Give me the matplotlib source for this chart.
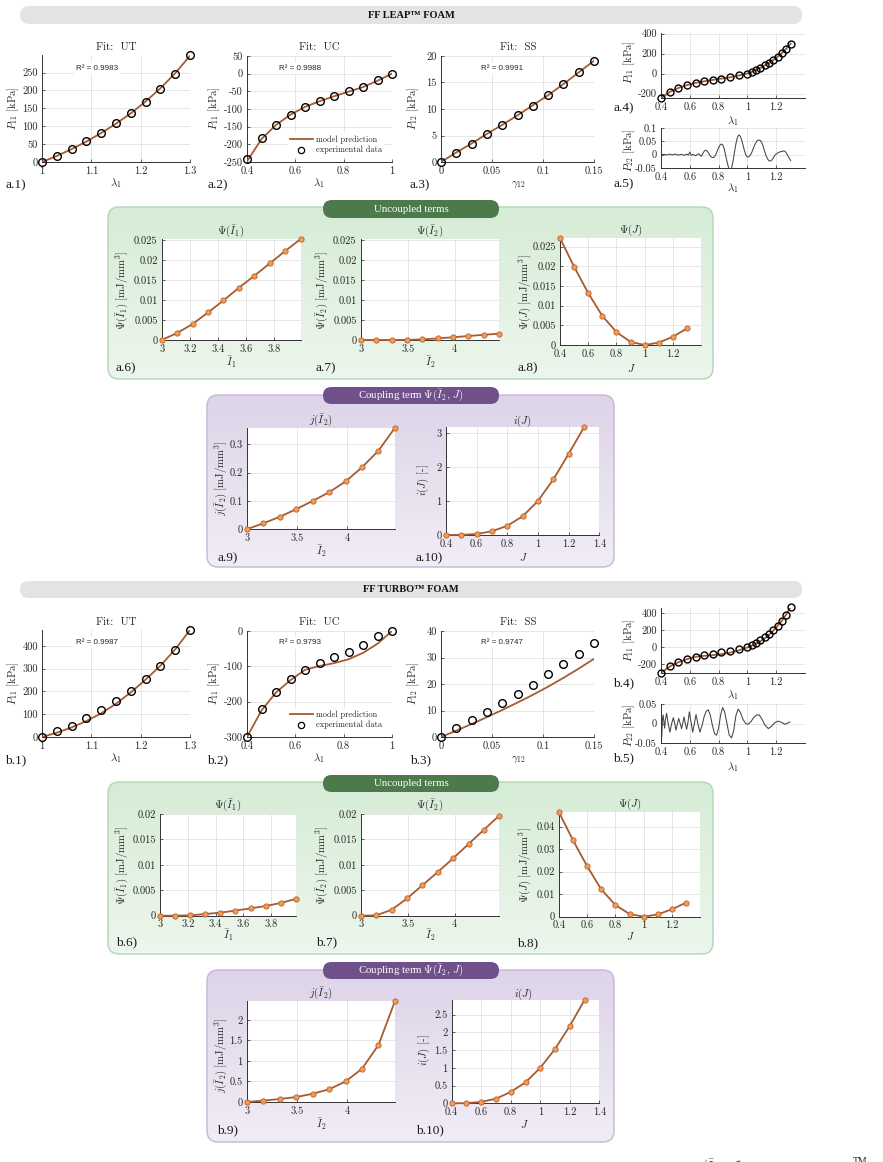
import numpy as np
import matplotlib
matplotlib.use("Agg")
import matplotlib.pyplot as plt
from matplotlib.patches import FancyBboxPatch
from matplotlib.lines import Line2D
from matplotlib.colors import LinearSegmentedColormap
from matplotlib.ticker import FuncFormatter, FixedLocator

plt.rcParams['font.family'] = 'cmr10'
plt.rcParams['mathtext.fontset'] = 'cm'
plt.rcParams['axes.unicode_minus'] = False
plt.rcParams['axes.formatter.use_mathtext'] = True

# ---------------- data ----------------
lam_ut = [1.00, 1.03, 1.06, 1.09, 1.12, 1.15, 1.18, 1.21, 1.24, 1.27, 1.30]
lam_uc = [0.40, 0.46, 0.52, 0.58, 0.64, 0.70, 0.76, 0.82, 0.88, 0.94, 1.00]
gam_ss = [0.0, 0.015, 0.03, 0.045, 0.06, 0.075, 0.09, 0.105, 0.12, 0.135, 0.15]

leap_ut_exp = [0, 17, 36, 58, 81, 108, 136, 169, 204, 247, 299]
leap_ut_mod = [0, 17, 36, 57, 81, 107, 136, 169, 206, 248, 297]
leap_uc_exp = [-242, -183, -144, -116, -94, -77, -64, -50, -38, -17, 0]
leap_uc_mod = [-248, -185, -145, -116, -94, -78, -64, -51, -38, -20, 0]
leap_ss_exp = [0, 1.7, 3.4, 5.2, 6.9, 8.8, 10.6, 12.7, 14.7, 16.9, 19.1]
leap_ss_mod = [0, 1.8, 3.5, 5.3, 7.0, 8.8, 10.7, 12.6, 14.7, 16.9, 19.1]
leap_r2 = ["0.9983", "0.9988", "0.9991"]

turbo_ut_exp = [0, 25, 50, 82, 117, 158, 203, 254, 313, 383, 469]
turbo_ut_mod = [0, 19, 42, 70, 104, 146, 196, 252, 313, 385, 470]
turbo_uc_exp = [-300, -222, -172, -137, -110, -90, -73, -59, -41, -14, 0]
turbo_uc_mod = [-300, -225, -174, -139, -110, -99, -91, -80, -62, -36, 0]
turbo_ss_exp = [0, 3.4, 6.6, 9.5, 13.0, 16.2, 19.8, 23.6, 27.4, 31.4, 35.5]
turbo_ss_mod = [0, 2.4, 4.9, 7.5, 10.2, 13.0, 15.9, 19.0, 22.3, 25.8, 29.5]
turbo_r2 = ["0.9987", "0.9793", "0.9747"]

leap_p22_lam = [0.40, 0.42, 0.44, 0.46, 0.48, 0.50, 0.52, 0.54, 0.56, 0.58,
                0.59, 0.60, 0.61, 0.62, 0.64, 0.66, 0.68, 0.69, 0.70, 0.71,
                0.72, 0.73, 0.74, 0.75, 0.76, 0.77, 0.78, 0.79, 0.80, 0.81,
                0.82, 0.83, 0.84, 0.85, 0.86, 0.87, 0.88, 0.89, 0.90, 0.91,
                0.92, 0.93, 0.94, 0.95, 0.96, 0.97, 0.98, 0.99, 1.00, 1.01,
                1.02, 1.03, 1.04, 1.05, 1.06, 1.07, 1.08, 1.09, 1.10, 1.11,
                1.12, 1.13, 1.14, 1.15, 1.16, 1.17, 1.18, 1.19, 1.20, 1.21,
                1.22, 1.23, 1.24, 1.25, 1.26, 1.27, 1.28, 1.29, 1.30]
leap_p22 = [0.000, 0.001, -0.001, 0.002, -0.001, 0.002, -0.002, 0.001, -0.002, 0.002,
            -0.002, 0.010, -0.003, 0.001, -0.004, 0.003, -0.006, 0.004, 0.013, 0.017,
            0.014, 0.006, -0.003, -0.009, -0.011, -0.009, 0.000, 0.013, 0.026, 0.036,
            0.040, 0.036, 0.020, -0.005, -0.030, -0.050, -0.058, -0.050, -0.025, 0.008,
            0.040, 0.064, 0.074, 0.070, 0.055, 0.035, 0.014, -0.002, -0.009, -0.008,
            -0.002, 0.008, 0.022, 0.036, 0.046, 0.053, 0.055, 0.053, 0.045, 0.030,
            0.012, -0.004, -0.016, -0.023, -0.024, -0.020, -0.012, -0.003, 0.002, 0.006,
            0.009, 0.011, 0.012, 0.014, 0.013, 0.007, -0.003, -0.013, -0.022]

turbo_p22_lam = [0.400, 0.405, 0.410, 0.415, 0.420, 0.425, 0.430, 0.439, 0.450, 0.462,
                 0.474, 0.486, 0.495, 0.504, 0.514, 0.523, 0.533, 0.543, 0.552, 0.560,
                 0.569, 0.578, 0.588, 0.597, 0.608, 0.620, 0.632, 0.643, 0.656, 0.670,
                 0.685, 0.700, 0.715, 0.728, 0.742, 0.757, 0.772, 0.786, 0.800, 0.814,
                 0.828, 0.842, 0.858, 0.874, 0.890, 0.905, 0.920, 0.936, 0.952, 0.970,
                 0.988, 1.006, 1.025, 1.045, 1.065, 1.082, 1.100, 1.122, 1.145, 1.165,
                 1.190, 1.214, 1.237, 1.260, 1.280, 1.295]
turbo_p22 = [0.048, -0.035, 0.010, 0.022, 0.005, -0.012, 0.008, 0.026, 0.000, -0.022,
             0.000, 0.015, 0.000, -0.017, 0.000, 0.013, 0.000, -0.013, 0.002, 0.017,
             0.000, -0.015, 0.005, 0.030, 0.005, -0.022, 0.000, 0.023, 0.000, -0.022,
             -0.005, 0.018, 0.032, 0.035, 0.022, -0.005, -0.026, -0.030, -0.012, 0.022,
             0.041, 0.030, 0.000, -0.030, -0.037, -0.018, 0.020, 0.037, 0.028, 0.010,
             0.000, -0.002, 0.005, 0.016, 0.022, 0.022, 0.012, -0.004, -0.013, -0.008,
             0.002, 0.006, 0.003, -0.002, 0.001, 0.004]

J_pts = [0.4, 0.5, 0.6, 0.7, 0.8, 0.9, 1.0, 1.1, 1.2, 1.3]
I1_leap = [3.0, 3.11, 3.22, 3.33, 3.44, 3.55, 3.66, 3.77, 3.88, 3.99]
I1_turbo = [3.0, 3.108, 3.217, 3.325, 3.434, 3.542, 3.651, 3.759, 3.868, 3.976]
I2_pts = [3.0, 3.164, 3.328, 3.491, 3.655, 3.819, 3.983, 4.146, 4.310, 4.474]

psi1_leap = [0, 0.00175, 0.004, 0.0069, 0.0099, 0.0131, 0.0161, 0.0192, 0.0223, 0.0253]
psi2_leap = [0, 0, 0, 0.00003, 0.00015, 0.0004, 0.0007, 0.001, 0.0013, 0.0016]
psiJ_leap = [0.0272, 0.0199, 0.0132, 0.0074, 0.0033, 0.0008, 0, 0.0006, 0.0021, 0.0042]
j_leap = [0, 0.021, 0.044, 0.071, 0.1, 0.131, 0.169, 0.219, 0.278, 0.359]
i_leap = [0, 0.003, 0.03, 0.11, 0.27, 0.55, 1.0, 1.63, 2.38, 3.16]

psi1_turbo = [0, 0, 0.00007, 0.00033, 0.0006, 0.001, 0.00144, 0.0019, 0.0025, 0.0033]
psi2_turbo = [0, 0.00007, 0.00118, 0.0034, 0.0060, 0.0086, 0.0113, 0.0141, 0.0169, 0.0197]
psiJ_turbo = [0.0464, 0.0339, 0.0224, 0.0121, 0.0052, 0.0012, 0, 0.001, 0.0033, 0.0062]
j_turbo = [0, 0.033, 0.073, 0.12, 0.2, 0.31, 0.5, 0.81, 1.39, 2.46]
i_turbo = [0, 0.005, 0.04, 0.13, 0.32, 0.59, 1.0, 1.53, 2.18, 2.91]

# ---------------- style ----------------
W, H = 883, 1162
BROWN = '#A65B32'
ORANGE = '#F39A55'
ORANGE_E = '#B9622C'
TXT = '#262626'
TICK = 7.5
LAB = 7.8

fig = plt.figure(figsize=(W / 100, H / 100), dpi=100)
bg = fig.add_axes([0, 0, 1, 1], zorder=-5)
bg.set_axis_off()


def ftext(x, y, s, **kw):
    kw.setdefault('ha', 'center')
    kw.setdefault('va', 'center')
    kw.setdefault('color', TXT)
    return fig.text(x / W, 1 - y / H, s, **kw)


def bar(x0, y0, x1, y1, color, r):
    p = FancyBboxPatch((x0, y0), x1 - x0, y1 - y0,
                       boxstyle=f"round,pad=0,rounding_size={r}",
                       fc=color, ec='none', zorder=3)
    bg.add_patch(p)


def panel(x0, y0, x1, y1, ctop, cbot, edge):
    box = FancyBboxPatch((x0, y0), x1 - x0, y1 - y0,
                         boxstyle="round,pad=0,rounding_size=11",
                         fc='none', ec=edge, lw=1.0, zorder=2)
    bg.add_patch(box)
    grad = np.linspace(0, 1, 256)[:, None]
    cmap = LinearSegmentedColormap.from_list('g', [ctop, cbot])
    im = bg.imshow(grad, extent=(x0, x1, y1, y0), cmap=cmap, aspect='auto',
                   zorder=1, origin='upper')
    im.set_clip_path(box)


fmt = FuncFormatter(lambda v, p: ('%g' % round(v, 6)))


def mkax(x0, x1, y0, y1, xlim, ylim, xt, yt):
    ax = fig.add_axes([x0 / W, 1 - y1 / H, (x1 - x0) / W, (y1 - y0) / H])
    ax.set_facecolor('white')
    for s in ['top', 'right']:
        ax.spines[s].set_visible(False)
    for s in ['left', 'bottom']:
        ax.spines[s].set_color('#333333')
        ax.spines[s].set_linewidth(0.7)
    ax.set_xlim(xlim)
    ax.set_ylim(ylim)
    ax.xaxis.set_major_locator(FixedLocator(xt))
    ax.yaxis.set_major_locator(FixedLocator(yt))
    ax.xaxis.set_major_formatter(fmt)
    ax.yaxis.set_major_formatter(fmt)
    ax.grid(True, color='#e2e2e2', lw=0.6)
    ax.set_axisbelow(True)
    ax.tick_params(direction='in', length=2, width=0.5, labelsize=TICK, pad=3,
                   colors=TXT)
    return ax


def sub(x, y, s):
    ftext(x, y, s, ha='left', family='Liberation Serif', size=9.5, color='#1a1a1a')


def fit_row(y_off, ut_e, ut_m, uc_e, uc_m, ss_e, ss_m, r2, lims, tag,
            p22_lam, p22, lim4, lim5):
    # .1
    ax = mkax(42, 190, lims[0][0] + y_off, 162 + y_off, (1, 1.3), lims[0][1],
              [1, 1.1, 1.2, 1.3], lims[0][2])
    ax.plot(lam_ut, ut_m, color=BROWN, lw=1.3, zorder=3)
    ax.plot(lam_ut, ut_e, 'o', mfc='none', mec='k', ms=5.5, mew=1.0, clip_on=False, zorder=4)
    ftext(97, 68 + y_off, 'R² = ' + r2[0], family='Liberation Sans', size=5.8,
          bbox=dict(fc='white', ec='none', pad=1.5))
    ftext(116, 47 + y_off, r'Fit:  UT', size=LAB)
    ftext(116, 183 + y_off, r'$\lambda_1$', size=LAB)
    ftext(13, 108 + y_off, r'$P_{11}\ [\mathrm{kPa}]$', size=LAB, rotation=90)
    sub(5, 185 + y_off, tag + '.1)')

    # .2
    ax = mkax(247, 392, lims[1][0] + y_off, 162 + y_off, (0.4, 1), lims[1][1],
              [0.4, 0.6, 0.8, 1], lims[1][2])
    ax.plot(lam_uc, uc_m, color=BROWN, lw=1.3, zorder=3)
    ax.plot(lam_uc, uc_e, 'o', mfc='none', mec='k', ms=5.5, mew=1.0, clip_on=False, zorder=4)
    ftext(300, 68 + y_off, 'R² = ' + r2[1], family='Liberation Sans', size=5.8,
          bbox=dict(fc='white', ec='none', pad=1.5))
    ftext(319, 47 + y_off, r'Fit:  UC', size=LAB)
    ftext(319, 183 + y_off, r'$\lambda_1$', size=LAB)
    ftext(214, 108 + y_off, r'$P_{11}\ [\mathrm{kPa}]$', size=LAB, rotation=90)
    sub(207, 185 + y_off, tag + '.2)')
    h1 = Line2D([], [], color=BROWN, lw=1.3)
    h2 = Line2D([], [], ls='none', marker='o', mfc='none', mec='k', ms=4.5, mew=0.9)
    lg = ax.legend([h1, h2], ['model prediction', 'experimental data'], loc='center',
                   bbox_to_anchor=(336 / W, 1 - (145 + y_off) / H),
                   bbox_transform=fig.transFigure, fontsize=6.0, frameon=True,
                   facecolor='white', edgecolor='none', framealpha=1,
                   handlelength=2.8, handletextpad=0.4, labelspacing=0.25,
                   borderpad=0.25, fancybox=False)
    for t in lg.get_texts():
        t.set_color(TXT)

    # .3
    ax = mkax(441, 594, 56 + y_off, 162 + y_off, (0, 0.15), lims[2][1],
              [0, 0.05, 0.1, 0.15], lims[2][2])
    ax.plot(gam_ss, ss_m, color=BROWN, lw=1.3, zorder=3)
    ax.plot(gam_ss, ss_e, 'o', mfc='none', mec='k', ms=5.5, mew=1.0, clip_on=False, zorder=4)
    ftext(502, 68 + y_off, 'R² = ' + r2[2], family='Liberation Sans', size=5.8,
          bbox=dict(fc='white', ec='none', pad=1.5))
    ftext(518, 47 + y_off, r'Fit:  SS', size=LAB)
    ftext(518, 185 + y_off, r'$\mathrm{\gamma_{12}}$', size=LAB)
    ftext(413, 108 + y_off, r'$P_{12}\ [\mathrm{kPa}]$', size=LAB, rotation=90)
    sub(410, 185 + y_off, tag + '.3)')

    # .4
    ax = mkax(661, 805, lim4[0], lim4[1], (0.4, 1.4), lim4[2],
              [0.4, 0.6, 0.8, 1, 1.2], [-200, 0, 200, 400])
    lam_all = lam_uc + lam_ut[1:]
    mod_all = uc_m + ut_m[1:]
    exp_all = uc_e + ut_e[1:]
    ax.plot(lam_all, mod_all, color=BROWN, lw=1.3, zorder=3)
    ax.plot(lam_all, exp_all, 'o', mfc='none', mec='k', ms=5.0, mew=1.0, clip_on=False, zorder=4)
    ftext(733, lim4[3], r'$\lambda_1$', size=LAB)
    ftext(629, lim4[4], r'$P_{11}\ [\mathrm{kPa}]$', size=LAB, rotation=90)
    sub(613, lim4[5], tag + '.4)')

    # .5
    ax = mkax(661, 805, lim5[0], lim5[1], (0.4, 1.4), lim5[2],
              [0.4, 0.6, 0.8, 1, 1.2], lim5[3])
    ax.plot(p22_lam, p22, color='#444444', lw=0.75)
    ftext(733, lim5[4], r'$\lambda_1$', size=LAB)
    ftext(629, lim5[5], r'$P_{22}\ [\mathrm{kPa}]$', size=LAB, rotation=90)
    sub(613, lim5[6], tag + '.5)')


def energy(ax, x, y):
    ax.plot(x, y, '-o', color=BROWN, lw=1.3, mfc=ORANGE, mec=ORANGE_E, ms=3.8,
            mew=0.6, clip_on=False, zorder=4)


# ---------------- backgrounds ----------------
bar(20, 6, 802, 24, '#e3e3e3', 9)
bar(20, 581, 802, 598, '#e3e3e3', 8.5)
ftext(411, 15.5, 'FF LEAP™ FOAM', family='Liberation Serif', weight='bold', size=7.5,
      color='#111111')
ftext(411, 590, 'FF TURBO™ FOAM', family='Liberation Serif', weight='bold', size=7.5,
      color='#111111')

panel(108, 207, 713, 379, '#d6ecd6', '#edf6ed', '#b4d4b4')
panel(207, 395, 614, 567, '#ddd4e8', '#f1edf6', '#c4b6d8')
panel(108, 782, 713, 954, '#d6ecd6', '#edf6ed', '#b4d4b4')
panel(207, 970, 614, 1142, '#ddd4e8', '#f1edf6', '#c4b6d8')

bar(323, 200, 499, 218, '#4c7a4b', 9)
bar(323, 387, 499, 404, '#70508b', 8.5)
bar(323, 775, 499, 792, '#4c7a4b', 8.5)
bar(323, 962, 499, 979, '#70508b', 8.5)
for yc in (209, 784):
    ftext(411, yc, 'Uncoupled terms', family='Liberation Serif', size=7.8, color='white')
for yc in (395.5, 970.5):
    ftext(411, yc, r'Coupling term $\Psi(\bar{I}_2,\, J)$', family='Liberation Serif',
          size=7.8, color='white')

bg.set_xlim(0, W)
bg.set_ylim(H, 0)

# ---------------- fit rows ----------------
fit_row(0, leap_ut_exp, leap_ut_mod, leap_uc_exp, leap_uc_mod, leap_ss_exp, leap_ss_mod,
        leap_r2,
        [(55, (0, 299), [0, 50, 100, 150, 200, 250]),
         (56, (-250, 50), [-250, -200, -150, -100, -50, 0, 50]),
         (56, (0, 20), [0, 5, 10, 15, 20])],
        'a', leap_p22_lam, leap_p22,
        (33, 98, (-245, 405), 121, 62, 108),
        (128, 168, (-0.05, 0.1), [-0.05, 0, 0.05, 0.1], 188, 150, 184))

fit_row(575, turbo_ut_exp, turbo_ut_mod, turbo_uc_exp, turbo_uc_mod, turbo_ss_exp,
        turbo_ss_mod, turbo_r2,
        [(55, (0, 470), [0, 100, 200, 300, 400]),
         (56, (-300, 0), [-300, -200, -100, 0]),
         (56, (0, 40), [0, 10, 20, 30, 40])],
        'b', turbo_p22_lam, turbo_p22,
        (608, 673, (-300, 460), 695, 640, 683),
        (704, 743, (-0.05, 0.05), [-0.05, 0, 0.05], 767, 725, 758))

# ---------------- uncoupled terms ----------------
psi_lab = r'\ [\mathrm{mJ/mm^3}]$'
# a.6
ax = mkax(161.7, 300.7, 239, 340, (3, I1_leap[-1]), (0, 0.0253),
          [3, 3.2, 3.4, 3.6, 3.8], [0, 0.005, 0.01, 0.015, 0.02, 0.025])
energy(ax, I1_leap, psi1_leap)
ftext(231, 232, r'$\Psi(\bar{I}_1)$', size=LAB)
ftext(231, 362, r'$\bar{I}_1$', size=LAB)
ftext(122, 290, r'$\Psi(\bar{I}_1)' + psi_lab, size=LAB, rotation=90)
sub(116, 368, 'a.6)')
# a.7
ax = mkax(360.7, 499.3, 239, 340, (3, I2_pts[-1]), (0, 0.0253),
          [3, 3.5, 4], [0, 0.005, 0.01, 0.015, 0.02, 0.025])
energy(ax, I2_pts, psi2_leap)
ftext(430, 232, r'$\Psi(\bar{I}_2)$', size=LAB)
ftext(430, 362, r'$\bar{I}_2$', size=LAB)
ftext(322, 290, r'$\Psi(\bar{I}_2)' + psi_lab, size=LAB, rotation=90)
sub(316, 368, 'a.7)')
# a.8
ax = mkax(560, 701, 238, 345, (0.4, 1.4), (0, 0.0272),
          [0.4, 0.6, 0.8, 1, 1.2], [0, 0.005, 0.01, 0.015, 0.02, 0.025])
energy(ax, J_pts, psiJ_leap)
ftext(631, 230, r'$\Psi(J)$', size=LAB)
ftext(631, 368, r'$J$', size=LAB)
ftext(525, 292, r'$\Psi(J)' + psi_lab, size=LAB, rotation=90)
sub(517, 368, 'a.8)')

# b.6
ax = mkax(160, 295.7, 814, 915.7, (3, I1_turbo[-1]), (0, 0.02),
          [3, 3.2, 3.4, 3.6, 3.8], [0, 0.005, 0.01, 0.015, 0.02])
energy(ax, I1_turbo, psi1_turbo)
ftext(228, 806, r'$\Psi(\bar{I}_1)$', size=LAB)
ftext(228, 935, r'$\bar{I}_1$', size=LAB)
ftext(122, 865, r'$\Psi(\bar{I}_1)' + psi_lab, size=LAB, rotation=90)
sub(116, 942, 'b.6)')
# b.7
ax = mkax(361, 499.3, 814, 915.7, (3, I2_pts[-1]), (0, 0.02),
          [3, 3.5, 4], [0, 0.005, 0.01, 0.015, 0.02])
energy(ax, I2_pts, psi2_turbo)
ftext(430, 806, r'$\Psi(\bar{I}_2)$', size=LAB)
ftext(430, 935, r'$\bar{I}_2$', size=LAB)
ftext(322, 865, r'$\Psi(\bar{I}_2)' + psi_lab, size=LAB, rotation=90)
sub(316, 942, 'b.7)')
# b.8
ax = mkax(559, 700, 812.3, 916.7, (0.4, 1.4), (0, 0.0464),
          [0.4, 0.6, 0.8, 1, 1.2], [0, 0.01, 0.02, 0.03, 0.04])
energy(ax, J_pts, psiJ_turbo)
ftext(630, 804, r'$\Psi(J)$', size=LAB)
ftext(630, 936, r'$J$', size=LAB)
ftext(525, 865, r'$\Psi(J)' + psi_lab, size=LAB, rotation=90)
sub(517, 943, 'b.8)')

# ---------------- coupling terms ----------------
# a.9
ax = mkax(246.7, 395, 427.7, 529.3, (3, I2_pts[-1]), (0, 0.359),
          [3, 3.5, 4], [0, 0.1, 0.2, 0.3])
energy(ax, I2_pts, j_leap)
ftext(321, 421, r'$j(\bar{I}_2)$', size=LAB)
ftext(321, 551, r'$\bar{I}_2$', size=LAB)
ftext(221, 478, r'$j(\bar{I}_2)' + psi_lab, size=LAB, rotation=90)
sub(217, 558, 'a.9)')
# a.10
ax = mkax(446, 599.3, 427.3, 535, (0.4, 1.4), (0, 3.16),
          [0.4, 0.6, 0.8, 1, 1.2, 1.4], [0, 1, 2, 3])
energy(ax, J_pts, i_leap)
ftext(523, 421, r'$i(J)$', size=LAB)
ftext(523, 557, r'$J$', size=LAB)
ftext(423, 480, r'$i(J)$ [-]', size=LAB, rotation=90)
sub(416, 558, 'a.10)')
# b.9
ax = mkax(246.7, 395, 1001, 1102, (3, I2_pts[-1]), (0, 2.46),
          [3, 3.5, 4], [0, 0.5, 1, 1.5, 2])
energy(ax, I2_pts, j_turbo)
ftext(321, 994, r'$j(\bar{I}_2)$', size=LAB)
ftext(321, 1124, r'$\bar{I}_2$', size=LAB)
ftext(221, 1055, r'$j(\bar{I}_2)' + psi_lab, size=LAB, rotation=90)
sub(217, 1130, 'b.9)')
# b.10
ax = mkax(451.7, 599.3, 1000, 1103.3, (0.4, 1.4), (0, 2.91),
          [0.4, 0.6, 0.8, 1, 1.2, 1.4], [0, 0.5, 1, 1.5, 2, 2.5])
energy(ax, J_pts, i_turbo)
ftext(524, 994, r'$i(J)$', size=LAB)
ftext(524, 1124, r'$J$', size=LAB)
ftext(424, 1050, r'$i(J)$ [-]', size=LAB, rotation=90)
sub(416, 1130, 'b.10)')

# caption fragment cut by the bottom edge (as in the reference)
ftext(702, 1157, r'$(\bar{I}_2,\ \ J)$', ha='left', va='top', size=9)
ftext(853, 1157, 'TM', ha='left', va='top', size=7, family='Liberation Serif')

fig.savefig('out.png', dpi=100)
